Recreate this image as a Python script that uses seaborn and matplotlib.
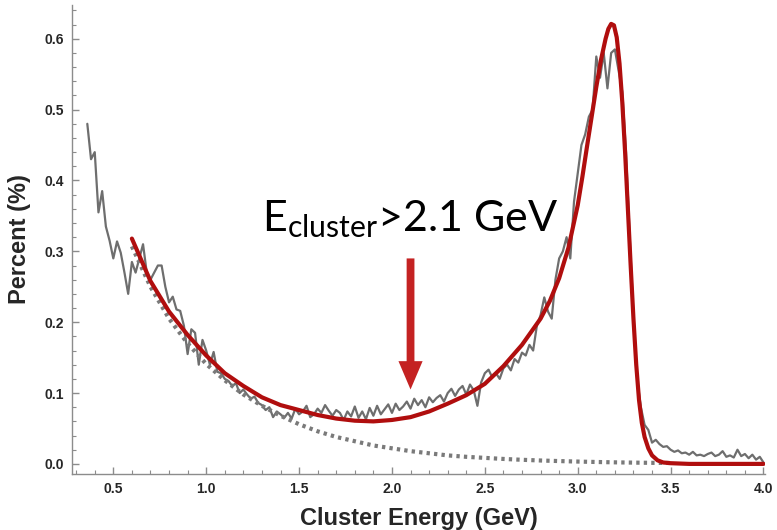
import numpy as np
import matplotlib
matplotlib.use("Agg")
import matplotlib.pyplot as plt
import seaborn as sns
from matplotlib.ticker import MultipleLocator

# measured spectrum (percent per bin), bins every 0.02 GeV from 0.36 to 4.00
data_start, data_step = 0.36, 0.02
data_pct = [
    0.48, 0.43, 0.44, 0.355, 0.385, 0.335, 0.315, 0.29, 0.314, 0.298,
    0.27, 0.24, 0.285, 0.27, 0.29, 0.31, 0.27, 0.26, 0.27, 0.28,
    0.28, 0.25, 0.228, 0.236, 0.218, 0.216, 0.195, 0.155, 0.19, 0.185,
    0.14, 0.175,
    0.16, 0.14, 0.158, 0.13, 0.128, 0.12, 0.117, 0.11, 0.114, 0.10,
    0.105, 0.098, 0.092, 0.095, 0.086, 0.083, 0.076, 0.08, 0.066, 0.074,
    0.07, 0.065, 0.072, 0.064, 0.078, 0.07, 0.074, 0.082, 0.066, 0.07,
    0.078, 0.072, 0.083, 0.075, 0.068, 0.076, 0.072, 0.062, 0.074, 0.067,
    0.081, 0.065, 0.074, 0.063, 0.079, 0.068, 0.082, 0.07, 0.077, 0.084,
    0.072, 0.085, 0.076, 0.081, 0.088, 0.078, 0.092, 0.083, 0.09, 0.08,
    0.094, 0.087, 0.093, 0.097, 0.088, 0.10, 0.106, 0.096, 0.105, 0.11,
    0.098, 0.112, 0.104, 0.082, 0.115, 0.128, 0.133, 0.122, 0.128, 0.12,
    0.135, 0.14, 0.132, 0.148, 0.143, 0.157, 0.153, 0.168, 0.16, 0.195,
    0.21, 0.235, 0.215, 0.205, 0.26, 0.29, 0.30, 0.32, 0.29, 0.37,
    0.41, 0.45, 0.465, 0.49, 0.50, 0.575, 0.545, 0.58, 0.53, 0.58,
    0.585, 0.555, 0.525, 0.44, 0.32, 0.21, 0.12, 0.08, 0.055, 0.048,
    0.03, 0.034, 0.028, 0.024, 0.025, 0.02, 0.017, 0.019, 0.015, 0.016,
    0.013, 0.017, 0.012, 0.013, 0.011, 0.014, 0.016, 0.011, 0.013, 0.018,
    0.01, 0.012, 0.009, 0.02, 0.011, 0.014, 0.008, 0.013, 0.006, 0.01,
    0.002,
]

# total fit (red)
fit_e = [0.60, 0.70, 0.80, 0.90, 1.00, 1.10, 1.20, 1.30, 1.40, 1.50,
         1.60, 1.70, 1.80, 1.90, 2.00, 2.10, 2.20, 2.30, 2.40, 2.50,
         2.60, 2.70, 2.80, 2.85, 2.90, 2.95, 3.00, 3.025, 3.05, 3.075,
         3.10, 3.125, 3.15, 3.165, 3.18, 3.195, 3.21, 3.225, 3.24, 3.255,
         3.27, 3.285, 3.30, 3.315, 3.33, 3.345, 3.36, 3.38, 3.40, 3.43,
         3.46, 3.50, 3.60, 4.00]
fit_pct = [0.318, 0.258, 0.215, 0.182, 0.153, 0.128, 0.110, 0.094, 0.083, 0.076,
           0.069, 0.064, 0.061, 0.060, 0.062, 0.066, 0.074, 0.085, 0.097, 0.113,
           0.138, 0.168, 0.205, 0.230, 0.262, 0.305, 0.365, 0.405, 0.448, 0.49,
           0.532, 0.57, 0.60, 0.614, 0.621, 0.619, 0.602, 0.565, 0.51, 0.44,
           0.36, 0.28, 0.205, 0.14, 0.09, 0.058, 0.038, 0.022, 0.012, 0.005,
           0.002, 0.001, 0.0, 0.0]

# background component (dotted)
bkg_e = [0.6, 0.7, 0.8, 0.9, 1.0, 1.1, 1.2, 1.3, 1.4, 1.5,
         1.6, 1.7, 1.8, 1.9, 2.0, 2.1, 2.2, 2.3, 2.4, 2.5,
         2.6, 2.7, 2.8, 2.9, 3.0, 3.1, 3.2, 3.3, 3.4, 3.5]
bkg_pct = [0.307, 0.25, 0.205, 0.17, 0.141, 0.118, 0.098, 0.082, 0.068, 0.056,
           0.046, 0.038, 0.032, 0.026, 0.022, 0.018, 0.015, 0.012, 0.010, 0.0085,
           0.007, 0.0058, 0.0048, 0.004, 0.0033, 0.0027, 0.0022, 0.0018, 0.0015, 0.0013]

cut_energy = 2.1

sns.set_theme(style="ticks")
plt.rcParams['font.family'] = ['Liberation Sans', 'DejaVu Sans']
plt.rcParams['mathtext.fontset'] = 'custom'
plt.rcParams['mathtext.rm'] = 'Lato'
plt.rcParams['mathtext.it'] = 'Lato'

fig = plt.figure(figsize=(7.77, 5.30), dpi=100)
ax = fig.add_axes([0.093, 0.106, 0.892, 0.885])

data_e = data_start + data_step * np.arange(len(data_pct))

sns.lineplot(x=data_e, y=data_pct, ax=ax, color='#6e6e6e', linewidth=1.6)
sns.lineplot(x=bkg_e, y=bkg_pct, ax=ax, color='#7a7a7a', linewidth=3.0,
             linestyle=(0, (0.8, 1.0)))
sns.lineplot(x=fit_e, y=fit_pct, ax=ax, color='#b00e0e', linewidth=3.0)

# cut marker
ax.arrow(cut_energy, 0.29, 0, -0.185, width=0.042, head_width=0.13,
         head_length=0.04, length_includes_head=True,
         color='#c42222', linewidth=0)
ax.text(1.30, 0.328, r"$\mathrm{E_{cluster}}$>2.1 GeV", family='Lato',
        fontsize=31, color='black', ha='left', va='baseline')

ax.set_xlim(0.279, 4.01)
ax.set_ylim(-0.014, 0.648)
ax.xaxis.set_major_locator(MultipleLocator(0.5))
ax.xaxis.set_minor_locator(MultipleLocator(0.1))
ax.yaxis.set_major_locator(MultipleLocator(0.1))
ax.yaxis.set_minor_locator(MultipleLocator(0.02))
ax.set_xticks(np.arange(0.5, 4.01, 0.5))

for side in ['top', 'right']:
    ax.spines[side].set_visible(False)
for side in ['left', 'bottom']:
    ax.spines[side].set_color('#8c8c8c')
    ax.spines[side].set_linewidth(1.0)
ax.tick_params(which='major', direction='in', length=5, width=1, color='#8c8c8c',
               labelsize=10, pad=6)
ax.tick_params(which='minor', direction='in', length=3, width=0.8, color='#8c8c8c')
for lab in ax.get_xticklabels() + ax.get_yticklabels():
    lab.set_fontweight('bold')
ax.xaxis.set_major_formatter(matplotlib.ticker.FormatStrFormatter('%.1f'))
ax.yaxis.set_major_formatter(matplotlib.ticker.FormatStrFormatter('%.1f'))

ax.set_xlabel('Cluster Energy (GeV)', fontsize=17, fontweight='bold', labelpad=8)
ax.set_ylabel('Percent (%)', fontsize=17, fontweight='bold', labelpad=10)

fig.savefig('out.png', dpi=100)
